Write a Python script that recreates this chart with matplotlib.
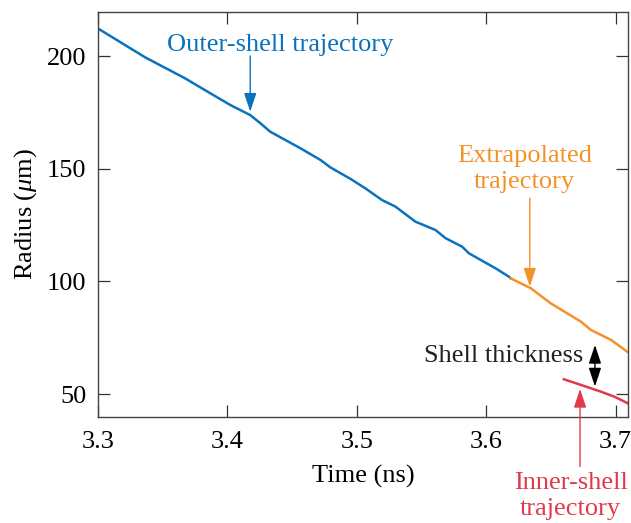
import matplotlib
matplotlib.use('Agg')
import matplotlib.pyplot as plt

# measured outer-shell radius (blue), fitted continuation (orange), inner shell (red)
outer_t = [3.300, 3.3367, 3.3675, 3.3804, 3.4023, 3.4178, 3.4256, 3.4333, 3.4565,
           3.4720, 3.4797, 3.4952, 3.5067, 3.5196, 3.5299, 3.5454, 3.5609, 3.5686,
           3.5815, 3.5866, 3.6073, 3.6176, 3.6189]
outer_r = [212.3, 199.4, 190.1, 185.7, 178.3, 173.8, 170.2, 166.4, 159.1,
           153.9, 150.6, 145.5, 141.3, 136.1, 133.2, 126.5, 122.8, 119.2,
           115.4, 112.5, 105.8, 102.1, 101.4]

extrap_t = [3.6189, 3.6344, 3.6498, 3.6731, 3.6808, 3.6963, 3.7095]
extrap_r = [101.4, 97.0, 90.3, 82.2, 78.5, 74.1, 68.6]

inner_t = [3.6600, 3.6731, 3.6886, 3.6989, 3.7095]
inner_r = [56.6, 54.1, 51.1, 48.9, 45.9]

blue = '#0b72be'
orange = '#f4922a'
red = '#e23a48'
dark = '#222222'
fs = 19

plt.rcParams['font.family'] = ['Liberation Serif', 'DejaVu Serif']
plt.rcParams['mathtext.fontset'] = 'custom'
plt.rcParams['mathtext.rm'] = 'Liberation Serif'
plt.rcParams['mathtext.it'] = 'Liberation Serif:italic'
plt.rcParams['font.size'] = fs

fig = plt.figure(figsize=(6.31, 5.23), dpi=100)
ax = fig.add_axes([0.1548, 0.2033, 0.8404, 0.7732])

ax.plot(outer_t, outer_r, color=blue, lw=1.8)
ax.plot(extrap_t, extrap_r, color=orange, lw=1.8)
ax.plot(inner_t, inner_r, color=red, lw=1.8)

ax.set_xlim(3.3, 3.7095)
ax.set_ylim(40, 219.4)
ax.set_xticks([3.3, 3.4, 3.5, 3.6, 3.7])
ax.set_yticks([50, 100, 150, 200])
ax.tick_params(direction='in', length=8.5, width=0.9, color='#333333',
               top=True, right=True, labelsize=fs, pad=8)
ax.tick_params(axis='x', pad=10)
for s in ax.spines.values():
    s.set_color('#444444')
    s.set_linewidth(1.0)

ax.set_xlabel('Time (ns)', fontsize=fs, labelpad=9)
ax.set_ylabel(r'Radius ($\mu$m)', fontsize=fs, labelpad=6)

arrow = dict(arrowstyle='-|>,head_length=0.6,head_width=0.2', lw=1.0, shrinkA=0, shrinkB=0)

ax.text(3.4411, 204.9, 'Outer-shell trajectory', color=blue, ha='center', va='center')
ax.annotate('', xy=(3.4178, 175.3), xytext=(3.4178, 200),
            arrowprops=dict(arrow, color=blue))

ax.text(3.6297, 150.0, 'Extrapolated\ntrajectory', color=orange, ha='center', va='center',
        linespacing=1.25)
ax.annotate('', xy=(3.6337, 97.7), xytext=(3.6337, 136.9),
            arrowprops=dict(arrow, color=orange))

ax.text(3.6751, 66.7, 'Shell thickness', color=dark, ha='right', va='center')
ax.annotate('', xy=(3.684, 53.4), xytext=(3.684, 71.8),
            arrowprops=dict(arrowstyle='<|-|>,head_length=0.6,head_width=0.2',
                            color='black', lw=1.0, shrinkA=0, shrinkB=0))

ax.text(3.6653, 4.9, 'Inner-shell\ntrajectory', color=red, ha='center', va='center',
        linespacing=1.25, clip_on=False)
ax.annotate('', xy=(3.6725, 52.3), xytext=(3.6725, 17.9),
            arrowprops=dict(arrow, color=red), annotation_clip=False)

fig.savefig('out.png', dpi=100)
